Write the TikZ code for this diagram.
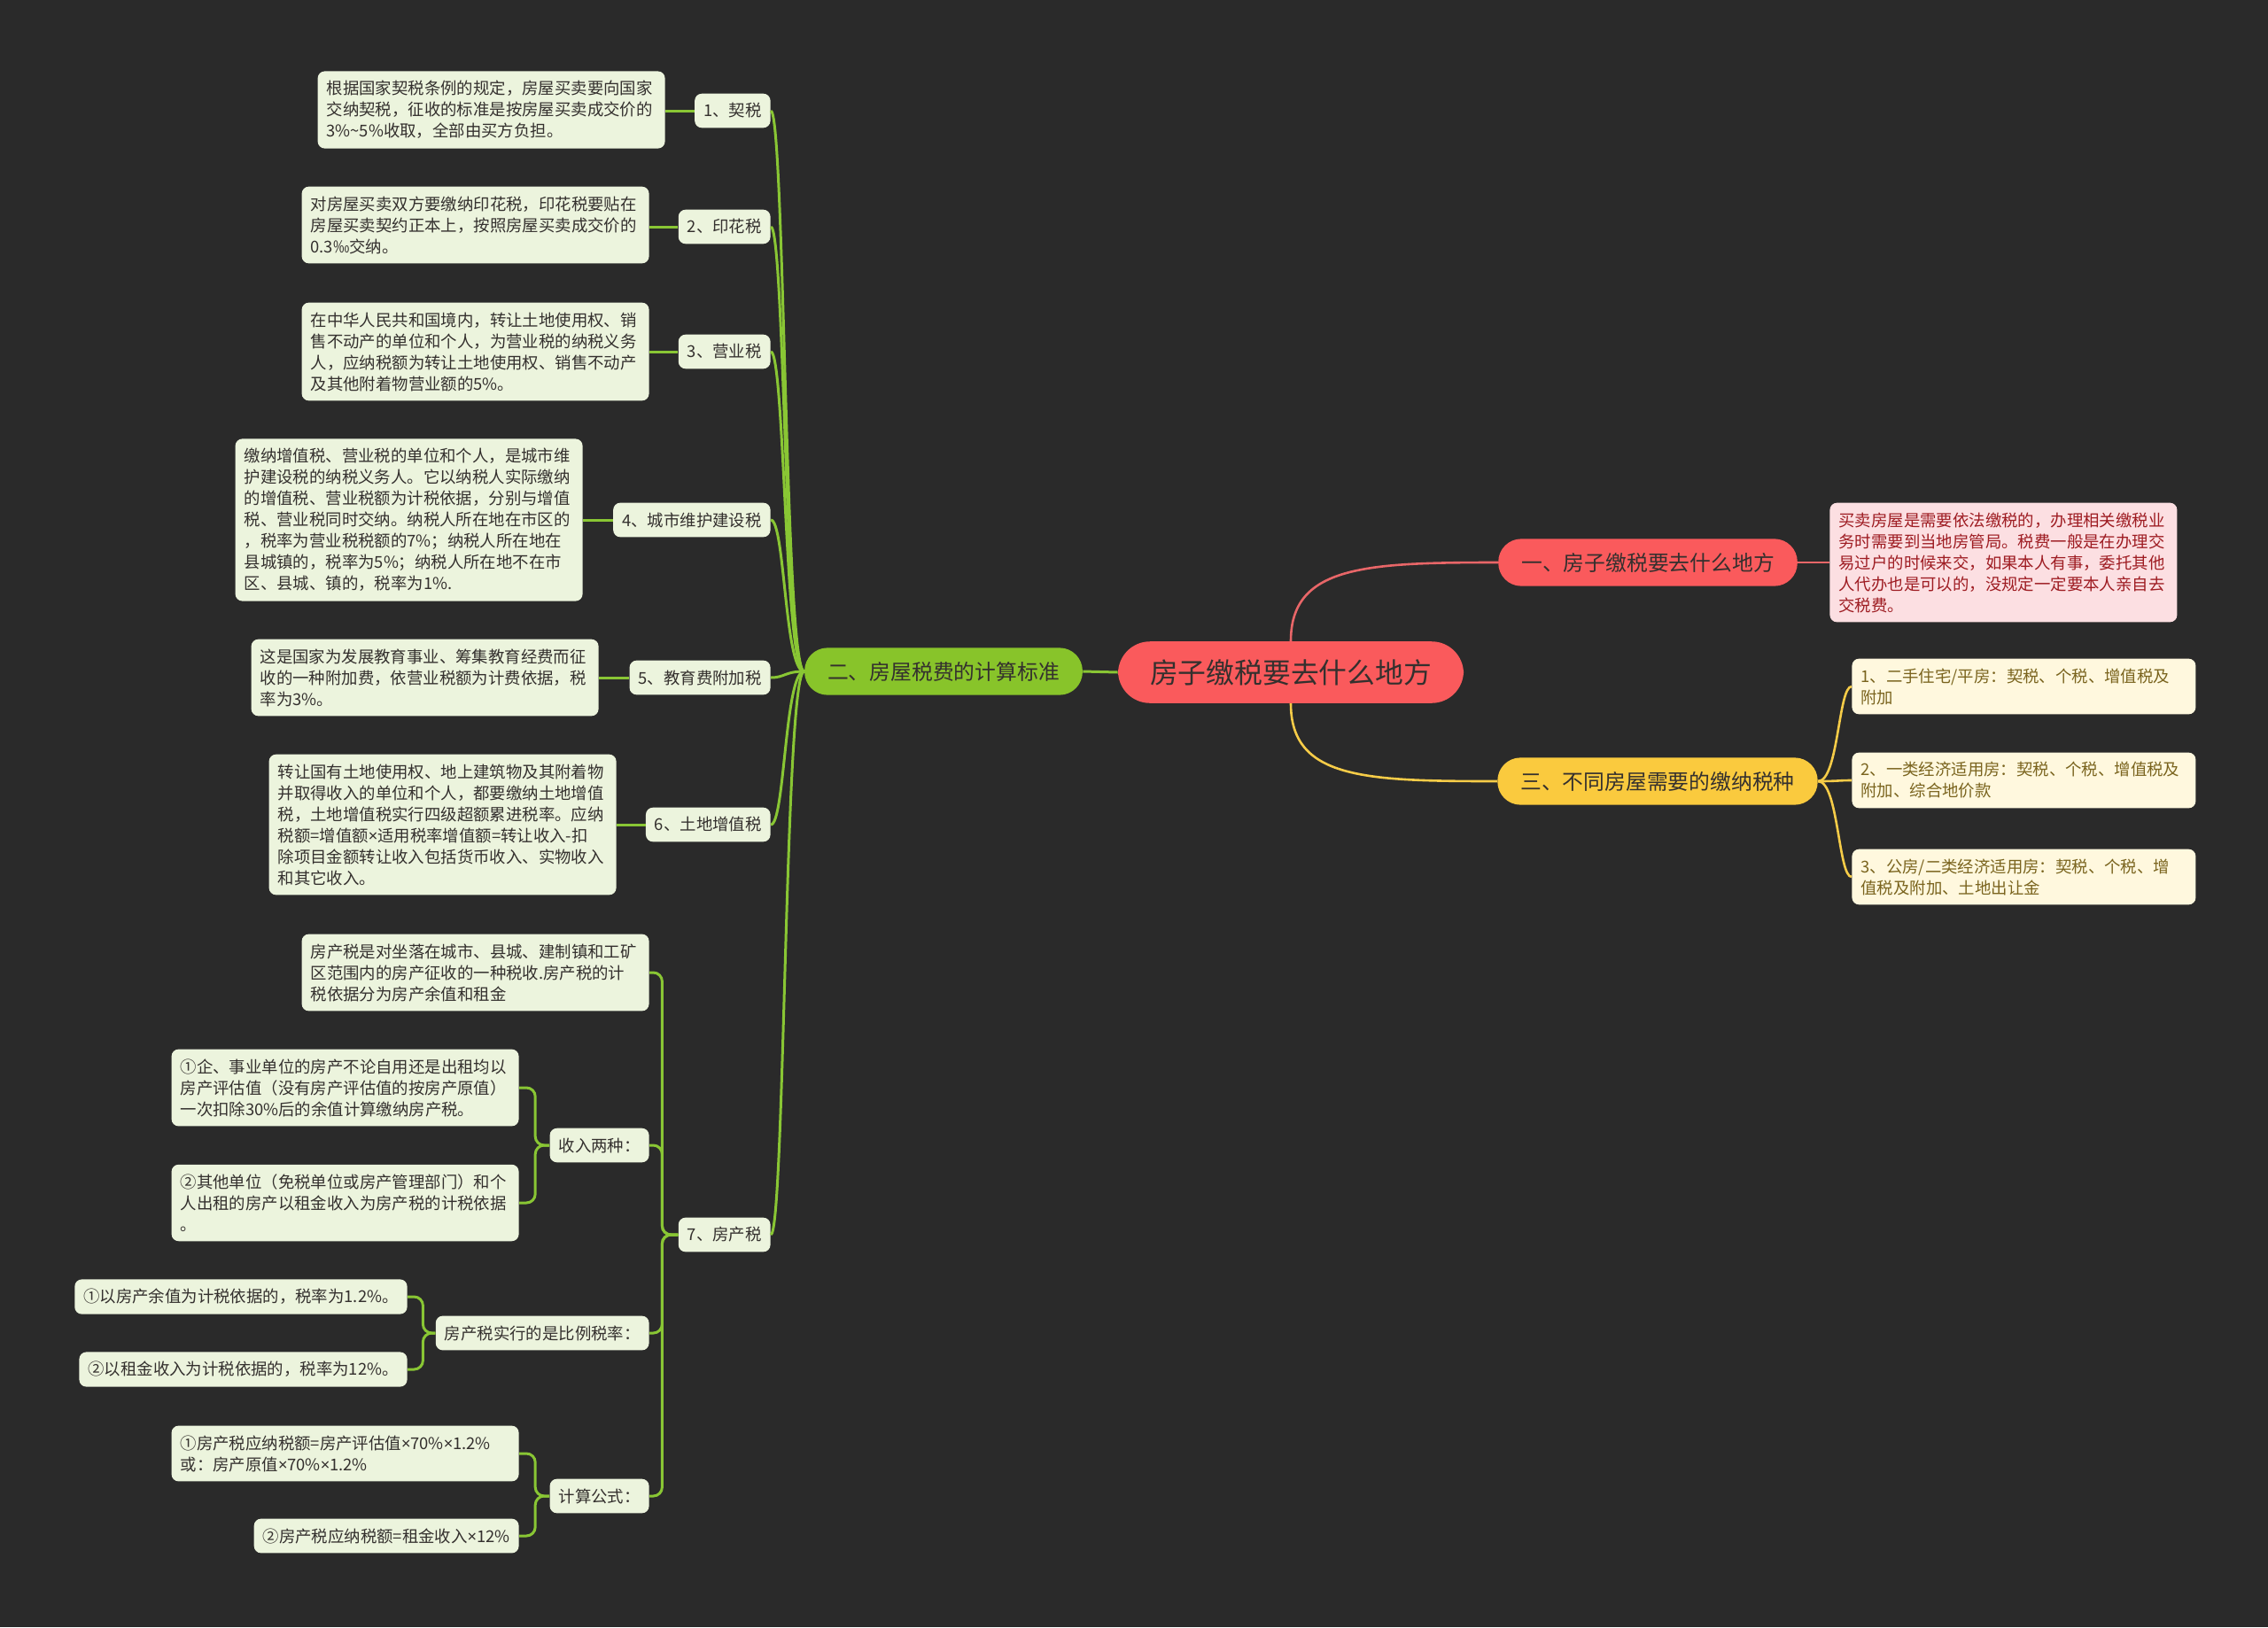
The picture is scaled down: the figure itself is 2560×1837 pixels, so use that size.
\documentclass[tikz,border=0pt]{standalone}
\usepackage{fontspec}
\setmainfont{Noto Sans CJK SC}
\newfontfamily\latinfont{Noto Sans}
\usetikzlibrary{positioning}
\definecolor{bg}{RGB}{42,42,42}
\definecolor{ink}{RGB}{52,48,46}
\definecolor{leafG}{RGB}{236,244,221}
\definecolor{lineG}{RGB}{137,198,52}
\definecolor{hubG}{RGB}{136,196,42}
\definecolor{rootR}{RGB}{250,90,92}
\definecolor{lineR}{RGB}{232,102,104}
\definecolor{leafR}{RGB}{252,223,226}
\definecolor{textR}{RGB}{158,28,34}
\definecolor{hubY}{RGB}{250,202,62}
\definecolor{lineY}{RGB}{246,204,72}
\definecolor{leafY}{RGB}{255,248,222}
\definecolor{textY}{RGB}{122,100,30}
\newcommand{\leaffont}{\fontsize{9.2}{12}\selectfont}
\newcommand{\tms}{{\latinfont ×}}
\tikzset{
  root/.style={fill=rootR,rounded corners=18pt,inner xsep=18pt,inner ysep=10pt,
    font=\fontsize{15.9}{18}\selectfont,text=ink},
  hub/.style={rounded corners=13pt,inner xsep=13pt,inner ysep=7.8pt,
    font=\fontsize{11.9}{14}\selectfont,text=ink},
  tag/.style={fill=leafG,rounded corners=4pt,inner xsep=5pt,inner ysep=5.4pt,
    font=\leaffont,text=ink,align=left},
  leaf/.style={tag,text width=186pt},
  link/.style={draw=lineG,line width=1.5pt,rounded corners=5pt},
  linkR/.style={draw=lineR,line width=1.3pt},
  linkY/.style={draw=lineY,line width=1.3pt},
}

\begin{document}
\begin{tikzpicture}[x=0.5pt,y=-0.5pt]
\fill[bg] (0,0) rectangle (2560,1837);
\useasboundingbox (0,0) rectangle (2560,1837);
\node[root] (root) at (1457,759) {房子缴税要去什么地方};
\node[hub,fill=rootR] (b1) at (1860,635) {一、房子缴税要去什么地方};
\node[hub,fill=hubG] (b2) at (1065,758) {二、房屋税费的计算标准};
\node[hub,fill=hubY] (b3) at (1871,882) {三、不同房屋需要的缴纳税种};
\node[leaf,fill=leafR,text=textR,anchor=west] (rl) at (2065,635)
  {买卖房屋是需要依法缴税的，办理相关缴税业\\务时需要到当地房管局。税费一般是在办理交\\易过户的时候来交，如果本人有事，委托其他\\人代办也是可以的，没规定一定要本人亲自去\\交税费。};
\node[leaf,fill=leafY,text=textY,text width=184pt,anchor=west] (y1) at (2090,775)
  {1、二手住宅/平房：契税、个税、增值税及\\附加};
\node[leaf,fill=leafY,text=textY,text width=184pt,anchor=west] (y2) at (2090,881)
  {2、一类经济适用房：契税、个税、增值税及\\附加、综合地价款};
\node[leaf,fill=leafY,text=textY,text width=184pt,anchor=west] (y3) at (2090,990)
  {3、公房/二类经济适用房：契税、个税、增\\值税及附加、土地出让金};
\node[tag,anchor=east] (s1) at (870,125) {1、契税};
\node[tag,anchor=east] (s2) at (870,256) {2、印花税};
\node[tag,anchor=east] (s3) at (870,397) {3、营业税};
\node[tag,anchor=east] (s4) at (870,587) {4、城市维护建设税};
\node[tag,anchor=east] (s5) at (870,765) {5、教育费附加税};
\node[tag,anchor=east] (s6) at (870,931) {6、土地增值税};
\node[tag,anchor=east] (s7) at (870,1394) {7、房产税};
\node[leaf,anchor=east] (l1) at (751,124)
  {根据国家契税条例的规定，房屋买卖要向国家\\交纳契税，征收的标准是按房屋买卖成交价的\\3\%\textasciitilde5\%收取，全部由买方负担。};
\node[leaf,anchor=east] (l2) at (733,254)
  {对房屋买卖双方要缴纳印花税，印花税要贴在\\房屋买卖契约正本上，按照房屋买卖成交价的\\0.3‰交纳。};
\node[leaf,anchor=east] (l3) at (733,397)
  {在中华人民共和国境内，转让土地使用权、销\\售不动产的单位和个人，为营业税的纳税义务\\人，应纳税额为转让土地使用权、销售不动产\\及其他附着物营业额的5\%。};
\node[leaf,anchor=east] (l4) at (658,587)
  {缴纳增值税、营业税的单位和个人，是城市维\\护建设税的纳税义务人。它以纳税人实际缴纳\\的增值税、营业税额为计税依据，分别与增值\\税、营业税同时交纳。纳税人所在地在市区的\\，税率为营业税税额的7\%；纳税人所在地在\\县城镇的，税率为5\%；纳税人所在地不在市\\区、县城、镇的，税率为1\%.};
\node[leaf,anchor=east] (l5) at (676,765)
  {这是国家为发展教育事业、筹集教育经费而征\\收的一种附加费，依营业税额为计费依据，税\\率为3\%。};
\node[leaf,anchor=east] (l6) at (696,931)
  {转让国有土地使用权、地上建筑物及其附着物\\并取得收入的单位和个人，都要缴纳土地增值\\税，土地增值税实行四级超额累进税率。应纳\\税额=增值额\tms 适用税率增值额=转让收入-扣\\除项目金额转让收入包括货币收入、实物收入\\和其它收入。};
\node[leaf,anchor=east] (f1) at (733,1098)
  {房产税是对坐落在城市、县城、建制镇和工矿\\区范围内的房产征收的一种税收.房产税的计\\税依据分为房产余值和租金};
\node[tag,anchor=east] (f2) at (733,1293) {收入两种：};
\node[tag,anchor=east] (f3) at (733,1505) {房产税实行的是比例税率：};
\node[tag,anchor=east] (f4) at (733,1689) {计算公式：};
\node[leaf,anchor=east] (g1) at (586,1228)
  {①企、事业单位的房产不论自用还是出租均以\\房产评估值（没有房产评估值的按房产原值）\\一次扣除30\%后的余值计算缴纳房产税。};
\node[leaf,anchor=east] (g2) at (586,1358)
  {②其他单位（免税单位或房产管理部门）和个\\人出租的房产以租金收入为房产税的计税依据\\。};
\node[tag,anchor=east] (h1) at (460,1464) {①以房产余值为计税依据的，税率为1.2\%。};
\node[tag,anchor=east] (h2) at (460,1546) {②以租金收入为计税依据的，税率为12\%。};
\node[leaf,anchor=east] (k1) at (586,1641)
  {①房产税应纳税额=房产评估值\tms 70\%\tms 1.2\%\\或：房产原值\tms 70\%\tms 1.2\%};
\node[tag,anchor=east] (k2) at (586,1734) {②房产税应纳税额=租金收入\tms 12\%};
\draw[link] (root.west) -- (b2.east);
\draw[linkR] (root.north) .. controls +(0,-85) and +(-150,0) .. (b1.west);
\draw[linkR] (b1.east) -- (rl.west);
\draw[linkY] (root.south) .. controls +(0,85) and +(-150,0) .. (b3.west);
\foreach \i in {1,2,3}
  \draw[linkY] (b3.east) .. controls +(23,0) and +(-15,0) .. (y\i.west);
\foreach \i in {1,...,7}
  \draw[link] (b2.west) .. controls +(-22,0) and +(16,0) .. (s\i.east);
\foreach \i in {1,...,6}
  \draw[link] (s\i.west) -- (s\i.west -| l\i.east);
\foreach \i in {1,...,4}
  \draw[link] (s7.west) -- ++(-18,0) |- (f\i.east);
\draw[link] (f2.west) -- ++(-16,0) |- (g1.east);
\draw[link] (f2.west) -- ++(-16,0) |- (g2.east);
\draw[link] (f3.west) -- ++(-14,0) |- (h1.east);
\draw[link] (f3.west) -- ++(-14,0) |- (h2.east);
\draw[link] (f4.west) -- ++(-16,0) |- (k1.east);
\draw[link] (f4.west) -- ++(-16,0) |- (k2.east);
\end{tikzpicture}
\end{document}
